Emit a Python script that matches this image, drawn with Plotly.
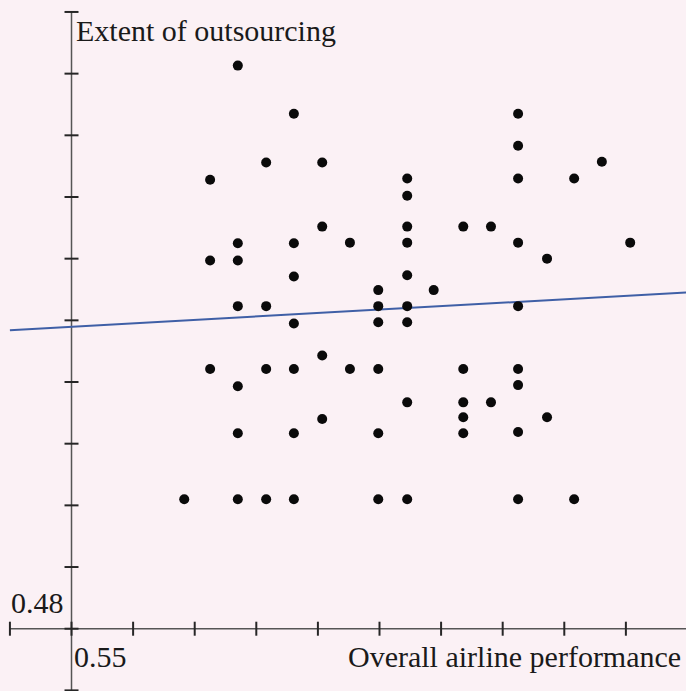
import plotly.graph_objects as go

# Overall airline performance (x) and extent of outsourcing (y) per airline
performance = [
    0.5770, 0.5861, 0.6225, 0.6225, 0.5816, 0.5907, 0.6361, 0.5725, 0.6045, 0.6225,
    0.6316, 0.6045, 0.5907, 0.6045, 0.6136, 0.6181, 0.5770, 0.5861, 0.5952, 0.6045,
    0.6225, 0.6407, 0.5725, 0.5770, 0.6272, 0.5861, 0.6045, 0.5998, 0.6088, 0.5770,
    0.5816, 0.5998, 0.6045, 0.6225, 0.5861, 0.5998, 0.6045, 0.5907, 0.5725, 0.5816,
    0.5861, 0.5952, 0.5998, 0.6136, 0.6225, 0.5770, 0.6225, 0.6045, 0.6136, 0.6181,
    0.5907, 0.6136, 0.6272, 0.5770, 0.5861, 0.5998, 0.6136, 0.6225, 0.5683, 0.5770,
    0.5816, 0.5861, 0.5998, 0.6045, 0.6225, 0.6316,
]
outsourcing = [
    0.5713, 0.5635, 0.5635, 0.5583, 0.5556, 0.5556, 0.5557, 0.5528, 0.5530, 0.5530,
    0.5530, 0.5502, 0.5452, 0.5452, 0.5452, 0.5452, 0.5425, 0.5425, 0.5426, 0.5426,
    0.5426, 0.5426, 0.5397, 0.5397, 0.5400, 0.5371, 0.5373, 0.5349, 0.5349, 0.5323,
    0.5323, 0.5323, 0.5323, 0.5323, 0.5295, 0.5297, 0.5297, 0.5243, 0.5221, 0.5221,
    0.5221, 0.5221, 0.5221, 0.5221, 0.5221, 0.5193, 0.5195, 0.5167, 0.5167, 0.5167,
    0.5140, 0.5143, 0.5143, 0.5117, 0.5117, 0.5117, 0.5117, 0.5119, 0.5010, 0.5010,
    0.5010, 0.5010, 0.5010, 0.5010, 0.5010, 0.5010,
]

# Fitted trend line: outsourcing = intercept + slope * performance
fit_intercept = 0.4984
fit_slope = 0.05556
fit_x = [0.5400, 0.6500]

# Axis ticks (origin at 0.55, 0.48)
x_ticks = [0.54, 0.55, 0.56, 0.57, 0.58, 0.59, 0.60, 0.61, 0.62, 0.63, 0.64, 0.65]
y_ticks = [0.47, 0.48, 0.49, 0.50, 0.51, 0.52, 0.53, 0.54, 0.55, 0.56, 0.57, 0.58]
x_origin, y_origin = 0.55, 0.48
x_label_text = "0.55"
y_label_text = "0.48"

W, H = 686, 691
x_range = [0.53839, 0.64976]
y_range = [0.46990, 0.58194]

bg = "#fbf1f5"
axis_col = "#555555"
tick_col = "#262626"
text_col = "#1a1a1a"
font_family = "Liberation Serif, Times New Roman, serif"

fig = go.Figure()

fig.add_trace(go.Scatter(
    x=fit_x,
    y=[fit_intercept + fit_slope * v for v in fit_x],
    mode="lines",
    line=dict(color="#3f5fa6", width=2),
    hoverinfo="skip",
))

fig.add_trace(go.Scatter(
    x=performance,
    y=outsourcing,
    mode="markers",
    marker=dict(color="#0a0a0a", size=10, line=dict(width=0)),
))

shapes = []
# axis lines through the origin
shapes.append(dict(type="line", xref="x", yref="y", x0=x_ticks[0], x1=x_range[1],
                   y0=y_origin, y1=y_origin, line=dict(color=axis_col, width=1.5),
                   layer="below"))
shapes.append(dict(type="line", xref="x", yref="y", x0=x_origin, x1=x_origin,
                   y0=y_range[0], y1=y_ticks[-1], line=dict(color=axis_col, width=1.5),
                   layer="below"))
# tick marks crossing the axes
for t in x_ticks:
    shapes.append(dict(type="line", xref="x", yref="y", ysizemode="pixel", yanchor=y_origin,
                       x0=t, x1=t, y0=-7, y1=7, line=dict(color=tick_col, width=2),
                       layer="below"))
for t in y_ticks:
    shapes.append(dict(type="line", xref="x", yref="y", xsizemode="pixel", xanchor=x_origin,
                       x0=-7, x1=7, y0=t, y1=t, line=dict(color=tick_col, width=2),
                       layer="below"))

annotations = [
    dict(text="Extent of outsourcing", x=x_origin, y=y_ticks[-1], xref="x", yref="y",
         xanchor="left", yanchor="top", xshift=2, yshift=0, showarrow=False,
         font=dict(family=font_family, size=30, color=text_col)),
    dict(text="Overall airline performance", x=x_range[1], y=y_origin, xref="x", yref="y",
         xanchor="right", yanchor="top", xshift=-3, yshift=-9, showarrow=False,
         font=dict(family=font_family, size=30, color=text_col)),
    dict(text=y_label_text, x=x_origin, y=y_origin, xref="x", yref="y",
         xanchor="right", yanchor="bottom", xshift=-6, yshift=8, showarrow=False,
         font=dict(family=font_family, size=30, color=text_col)),
    dict(text=x_label_text, x=x_origin, y=y_origin, xref="x", yref="y",
         xanchor="left", yanchor="top", xshift=0, yshift=-9, showarrow=False,
         font=dict(family=font_family, size=30, color=text_col)),
]

fig.update_layout(
    width=W, height=H,
    margin=dict(l=0, r=0, t=0, b=0),
    paper_bgcolor=bg, plot_bgcolor=bg,
    showlegend=False,
    xaxis=dict(range=x_range, visible=False, fixedrange=True),
    yaxis=dict(range=y_range, visible=False, fixedrange=True),
    shapes=shapes,
    annotations=annotations,
)

fig.write_html("out.html")
